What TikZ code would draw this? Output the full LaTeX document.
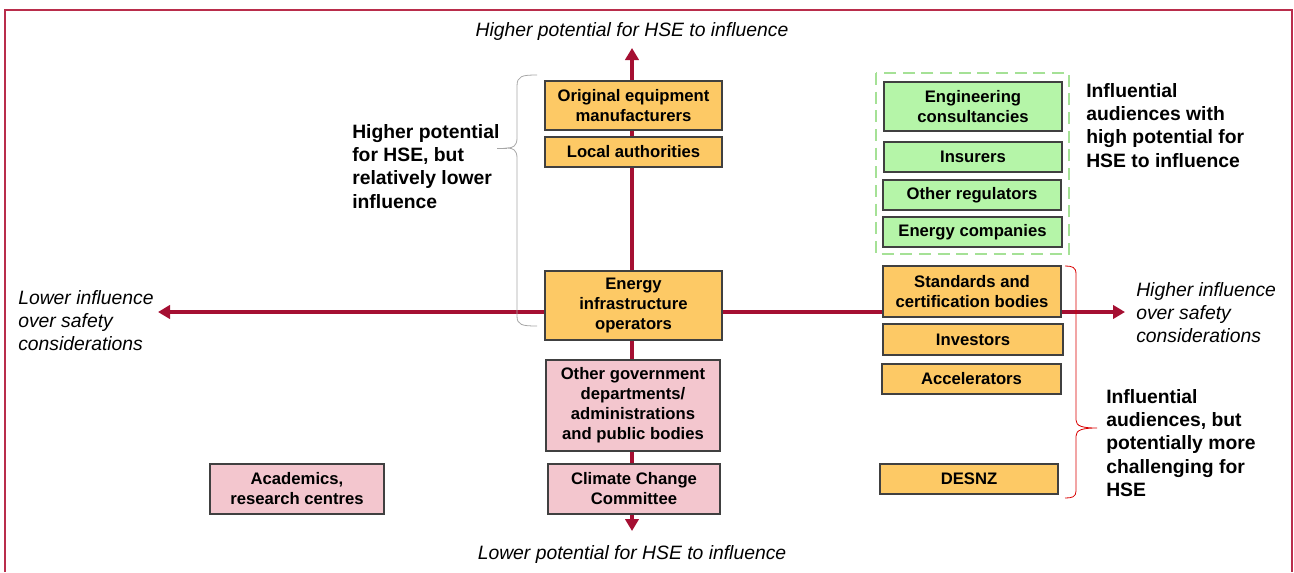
\documentclass[tikz,border=0pt]{standalone}
\usepackage{fontspec}
\setmainfont{Liberation Sans}
\usetikzlibrary{arrows.meta}
\definecolor{axisred}{RGB}{165,15,50}
\definecolor{framered}{RGB}{185,45,75}
\definecolor{boxorange}{RGB}{253,201,101}
\definecolor{boxpink}{RGB}{243,198,206}
\definecolor{boxgreen}{RGB}{181,245,168}
\definecolor{dashgreen}{RGB}{165,225,150}
\definecolor{boxline}{RGB}{64,64,64}
\tikzset{
  boxsize/.style 2 args={minimum width=#1*0.75pt, minimum height=#2*0.75pt},
  audience/.style={draw=boxline, line width=0.8pt, inner sep=0pt, align=center,
    font=\bfseries\fontsize{12.5}{15}\selectfont},
  orangebox/.style={audience, fill=boxorange},
  pinkbox/.style={audience, fill=boxpink},
  greenbox/.style={audience, fill=boxgreen},
  axis/.style={draw=axisred, line width=3pt, {Triangle[width=10pt,length=9pt]}-{Triangle[width=10pt,length=9pt]}},
  axislabel/.style={inner sep=0pt, align=left, font=\itshape\fontsize{14.5}{17.5}\selectfont},
  note/.style={inner sep=0pt, align=left, font=\bfseries\fontsize{14.5}{17.5}\selectfont},
}
\begin{document}
\begin{tikzpicture}[x=0.75pt,y=-0.75pt]
\useasboundingbox (0,0) rectangle (1294,572);
% Frame
\draw[framered, line width=1.8pt] (5,572) -- (5,10) -- (1292,10) -- (1292,572);
% Axis end points
\coordinate (top) at (632,48);
\coordinate (bottom) at (632,531);
\coordinate (left) at (158,312);
\coordinate (right) at (1125,312);
% Draw the axes
\draw[axis] (bottom) -- (top);
\draw[axis] (left) -- (right);
% Axis labels
\node[axislabel] (toplabel) at (632,31) {Higher potential for HSE to influence};
\node[axislabel] (bottomlabel) at (632,554) {Lower potential for HSE to influence};
\node[axislabel, anchor=north west] (leftlabel) at (18,290) {Lower influence\\over safety\\considerations};
\node[axislabel, anchor=north west] (rightlabel) at (1136,282) {Higher influence\\over safety\\considerations};
% Centre column
\node[orangebox, boxsize={177}{49}] (oem) at (633.5,105.5) {Original equipment\\manufacturers};
\node[orangebox, boxsize={177}{30}] (localauth) at (633.5,152) {Local authorities};
\node[orangebox, boxsize={177}{69}] (eio) at (633.5,305.5) {Energy\\infrastructure\\operators};
\node[pinkbox, boxsize={174}{91}] (ogd) at (633,405.5) {Other government\\departments/\\administrations\\and public bodies};
\node[pinkbox, boxsize={172}{50}] (ccc) at (634,489) {Climate Change\\Committee};
\node[pinkbox, boxsize={174}{50}] (acad) at (297,489) {Academics,\\research centres};
% Right column
\draw[dashgreen, line width=1.7pt, dash pattern=on 9pt off 5pt] (876,73) rectangle (1069,254);
\node[greenbox, boxsize={178}{49}] (eng) at (973,106.5) {Engineering\\consultancies};
\node[greenbox, boxsize={178}{30}] (insurers) at (973,157) {Insurers};
\node[greenbox, boxsize={178}{30}] (oreg) at (972,195) {Other regulators};
\node[greenbox, boxsize={179}{30}] (ecomp) at (972.5,232) {Energy companies};
\node[orangebox, boxsize={178}{51}] (std) at (972,291.5) {Standards and\\certification bodies};
\node[orangebox, boxsize={180}{31}] (investors) at (973,339.5) {Investors};
\node[orangebox, boxsize={179}{30}] (accel) at (971.5,379) {Accelerators};
\node[orangebox, boxsize={178}{30}] (desnz) at (969,479) {DESNZ};
% Braces
\draw[gray!70, line width=0.6pt] (537,75) .. controls (522,75) and (517,76) .. (517,86) -- (517,138)
  .. controls (517,146) and (513,148) .. (507,148) .. controls (513,148) and (517,150) .. (517,158)
  -- (517,316) .. controls (517,325) and (522,326) .. (537,326);
\draw[gray!70, line width=0.6pt] (497,148) -- (507,148);
\draw[red!85!black, line width=0.6pt] (1065,266) .. controls (1072,266) and (1076,267) .. (1076,274)
  -- (1076,420) .. controls (1076,426) and (1082,428) .. (1097,428)
  .. controls (1082,428) and (1076,430) .. (1076,436) -- (1076,491)
  .. controls (1076,497) and (1072,498) .. (1065,498);
% Notes
\node[note, anchor=north west] (notelow) at (352,124) {Higher potential\\for HSE, but\\relatively lower\\influence};
\node[note, anchor=north west] (notehigh) at (1086,83) {Influential\\audiences with\\high potential for\\HSE to influence};
\node[note, anchor=north west] (notechall) at (1106,389) {Influential\\audiences, but\\potentially more\\challenging for\\HSE};
\end{tikzpicture}
\end{document}
